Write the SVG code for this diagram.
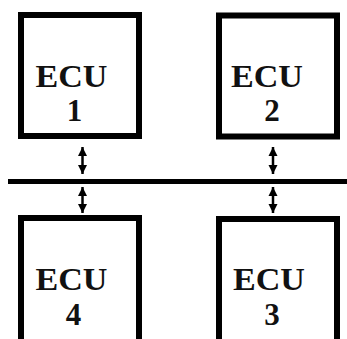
<svg xmlns="http://www.w3.org/2000/svg" width="347" height="339" viewBox="0 0 347 339">
<style>
.box{fill:#fff;stroke:#000;stroke-width:6}
.lbl{font-family:"Liberation Serif","Times New Roman",serif;font-weight:bold;font-size:31px;fill:#111;text-anchor:middle}
.bus{stroke:#000;stroke-width:5}
.arr{stroke:#000;stroke-width:2.5;marker-start:url(#ah);marker-end:url(#ah)}
</style>
<defs>
<marker id="ah" viewBox="0 0 10 10" refX="10" refY="5" markerWidth="9" markerHeight="11" markerUnits="userSpaceOnUse" orient="auto-start-reverse">
<path d="M0,0 L10,5 L0,10 Z" fill="#000"/>
</marker>
</defs>
<rect width="347" height="339" fill="#fff"/>
<g id="ecu1">
<rect class="box" x="21" y="15" width="118" height="121"/>
<text class="lbl" x="71.5" y="86.5" textLength="72" lengthAdjust="spacingAndGlyphs">ECU</text>
<text class="lbl" x="74.5" y="121">1</text>
</g>
<g id="ecu2">
<rect class="box" x="219" y="15.5" width="118" height="121"/>
<text class="lbl" x="267" y="86.5" textLength="72" lengthAdjust="spacingAndGlyphs">ECU</text>
<text class="lbl" x="272" y="121">2</text>
</g>
<g id="ecu4">
<rect class="box" x="21" y="218" width="118" height="200"/>
<text class="lbl" x="71.5" y="290" textLength="72" lengthAdjust="spacingAndGlyphs">ECU</text>
<text class="lbl" x="73.5" y="324.5">4</text>
</g>
<g id="ecu3">
<rect class="box" x="219" y="219" width="118" height="200"/>
<text class="lbl" x="269" y="290" textLength="72" lengthAdjust="spacingAndGlyphs">ECU</text>
<text class="lbl" x="272" y="324.5">3</text>
</g>
<g id="connectors">
<line class="bus" x1="8" y1="181.5" x2="347" y2="181.5"/>
<line class="arr" x1="82.5" y1="147" x2="82.5" y2="174"/>
<line class="arr" x1="82.5" y1="187" x2="82.5" y2="213"/>
<line class="arr" x1="273" y1="147" x2="273" y2="174"/>
<line class="arr" x1="273" y1="187" x2="273" y2="213"/>
</g>
</svg>
